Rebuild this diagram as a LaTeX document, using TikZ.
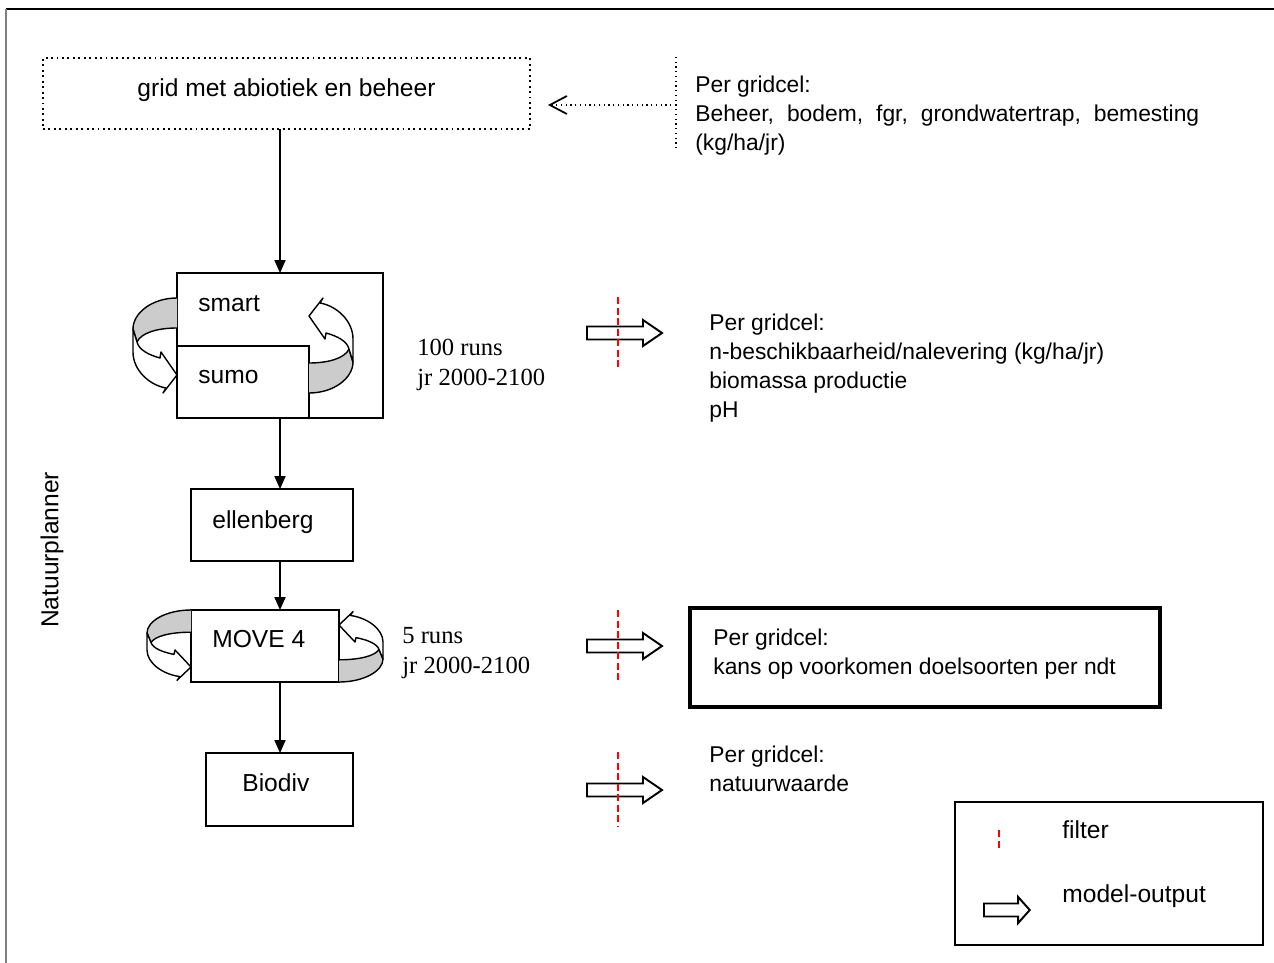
\documentclass[tikz,border=0pt]{standalone}
\usepackage{fontspec}
\setmainfont{Liberation Sans}
\newfontfamily\runsfont{Liberation Serif}
\usetikzlibrary{arrows.meta}

\tikzset{
  box/.style={draw=black,line width=1.1pt,fill=white,inner sep=0pt,outer sep=0pt},
  lbl/.style={font=\fontsize{14}{17}\selectfont,inner sep=0pt,anchor=west},
  info/.style={font=\fontsize{13}{16.5}\selectfont,inner sep=0pt,align=left,anchor=north west},
  runs/.style={font=\runsfont\fontsize{14}{17}\selectfont,inner sep=0pt,align=left,anchor=north west},
  flow/.style={line width=1.1pt,-{Triangle[length=2.6mm,width=2.2mm]}},
  filter/.style={red,line width=1.1pt,dash pattern=on 4pt off 2pt},
  ribbon/.pic={
    \filldraw[fill=gray!40,line width=0.8pt] (0,0) .. controls (-25,0) and (-44,15) .. (-44,31)
      -- (-40,44) .. controls (-36,35) and (-20,30) .. (0,30);
    \filldraw[fill=white,line width=0.8pt,line join=round] (-44,31) -- (-44,54)
      .. controls (-44,72) and (-28,87) .. (-11,90) -- (-14,95) -- (0,77) -- (-16,54) -- (-17,60)
      .. controls (-28,57) and (-38,52) .. (-40,44) -- cycle;
  },
  outarrow/.pic={
    \draw[fill=white,line width=1.1pt] (0,-6.5) -- (56,-6.5) -- (56,-13) -- (75,0)
      -- (56,13) -- (56,6.5) -- (0,6.5) -- cycle;
  }
}

\begin{document}
\begin{tikzpicture}[x=0.02cm,y=-0.02cm]
\useasboundingbox (0,0) rectangle (1274,963);

% frame
\draw[line width=1.2pt] (6,9) -- (1274,9);
\draw[gray,line width=1.5pt] (6,9) -- (6,963);

% model chain
\node[box,dotted,line width=0.7pt,minimum width=9.74cm,minimum height=1.42cm] (grid) at (286.5,93.5) {};
\node[box,minimum width=4.12cm,minimum height=2.9cm] (smart) at (280,345.5) {};
\node[box,minimum width=2.64cm,minimum height=1.44cm] (sumo) at (243,382) {};
\node[box,minimum width=3.24cm,minimum height=1.44cm] (ellenberg) at (272,525) {};
\node[box,minimum width=2.96cm,minimum height=1.44cm] (move) at (265,646) {};
\node[box,minimum width=2.94cm,minimum height=1.46cm] (biodiv) at (279.5,789.5) {};

\node[lbl,anchor=center] (gridtxt) at (286.5,90) {grid met abiotiek en beheer};
\node[lbl] (smarttxt) at (198,304) {smart};
\node[lbl] (sumotxt) at (198,377) {sumo};
\node[lbl] (ellenbergtxt) at (212,522) {ellenberg};
\node[lbl] (movetxt) at (212,639) {MOVE 4};
\node[lbl] (biodivtxt) at (242,783) {Biodiv};
\node[lbl,anchor=center,rotate=90] (planner) at (52,550) {Natuurplanner};

\draw[flow] (grid.south -| smart.north) -- (smart.north);
\draw[flow] (smart.south) -- (smart.south |- ellenberg.north);
\draw[flow] (ellenberg.south -| smart.south) -- (move.north -| smart.south);
\draw[flow] (move.south -| smart.south) -- (biodiv.north -| smart.south);

% rotating arrows
\pic at (177,298) {ribbon};
\pic[rotate=180] at (309,393) {ribbon};
\pic[yscale=0.74] at (191,610) {ribbon};
\pic[rotate=180,yscale=0.74] at (339,682) {ribbon};

\node[runs] (runs1) at (417,339) {100 runs\\jr 2000-2100};
\node[runs] (runs2) at (402,627) {5 runs\\jr 2000-2100};

% input
\draw[dotted,line width=0.7pt] (676,57) -- (676,150);
\coordinate (insrc) at (676,105);
\coordinate (intip) at (548,105);
\draw[dotted,line width=0.7pt,-{Straight Barb[length=3.4mm,width=3.6mm,line width=1pt]}] (insrc) -- (intip);
\node[info] (input) at (695,76) {Per gridcel:\\\makebox[10.08cm][s]{Beheer, bodem, fgr, grondwatertrap, bemesting}\\(kg/ha/jr)};

% outputs
\pic at (587,333) {outarrow};
\pic at (587,646) {outarrow};
\pic at (587,790) {outarrow};
\draw[filter] (618,297) -- (618,370);
\draw[filter] (618,610) -- (618,683);
\draw[filter] (618,752) -- (618,827);

\node[info] (out1) at (709,314) {Per gridcel:\\n-beschikbaarheid/nalevering (kg/ha/jr)\\biomassa productie\\pH};
\node[box,line width=2.5pt,minimum width=9.4cm,minimum height=1.98cm] (kansbox) at (925,657.5) {};
\node[info] (out2) at (713,629) {Per gridcel:\\kans op voorkomen doelsoorten per ndt};
\node[info] (out3) at (709,746) {Per gridcel:\\natuurwaarde};

% legend
\node[box,minimum width=6.16cm,minimum height=2.86cm] (legend) at (1109,873.5) {};
\draw[filter] (999,830) -- (999,850);
\node[lbl] (filtertxt) at (1062,830) {filter};
\pic[xscale=0.61] at (984,910) {outarrow};
\node[lbl] (outputtxt) at (1062,896) {model-output};
\end{tikzpicture}
\end{document}
